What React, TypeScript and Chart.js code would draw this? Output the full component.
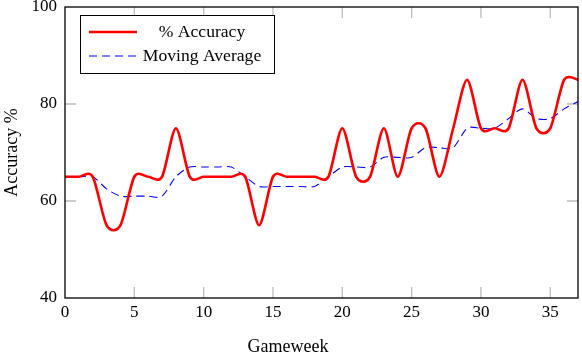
import React, { useEffect, useRef } from 'react';
import { Chart, registerables } from 'chart.js';

Chart.register(...registerables);

const gameweeks = [0, 1, 2, 3, 4, 5, 6, 7, 8, 9, 10, 11, 12, 13, 14, 15, 16, 17, 18, 19, 20, 21, 22, 23, 24, 25, 26, 27, 28, 29, 30, 31, 32, 33, 34, 35, 36, 37];
const accuracy = [65, 65, 65, 55, 55, 65, 65, 65, 75, 65, 65, 65, 65, 65, 55, 65, 65, 65, 65, 65, 75, 65, 65, 75, 65, 75, 75, 65, 75, 85, 75, 75, 75, 85, 75, 75, 85, 85];
const movingAverage = [65, 65, 65, 62.5, 61, 61, 61, 61, 65, 67, 67, 67, 67, 65, 63, 63, 63, 63, 63, 65, 67, 67, 67, 69, 69, 69, 71, 71, 71, 75, 75, 75, 77, 79, 77, 77, 79, 80.5];
const xTicks = [0, 5, 10, 15, 20, 25, 30, 35];
const yTicks = [40, 60, 80, 100];
const seriesNames = ['% Accuracy', 'Moving Average'];
const xTitle = 'Gameweek';
const yTitle = 'Accuracy %';

const FONT = "'Liberation Serif', 'DejaVu Serif', serif";
const SMOOTH = 0.1375;

const framePlugin = {
  id: 'frameAndTicks',
  beforeDatasetsDraw(chart: any) {
    const { ctx, chartArea } = chart;
    // uniform (pgfplots-like) smooth control points
    chart.getSortedVisibleDatasetMetas().forEach((meta: any) => {
      const line = meta.dataset;
      const pts = meta.data;
      if (line && line.updateControlPoints) line.updateControlPoints(chartArea, 'x');
      const n = pts.length;
      for (let i = 0; i < n; i++) {
        const p = pts[i];
        const prev = pts[Math.max(i - 1, 0)];
        const next = pts[Math.min(i + 1, n - 1)];
        const dx = next.x - prev.x;
        const dy = next.y - prev.y;
        p.cp1x = p.x - SMOOTH * dx;
        p.cp1y = p.y - SMOOTH * dy;
        p.cp2x = p.x + SMOOTH * dx;
        p.cp2y = p.y + SMOOTH * dy;
      }
      if (line) line._path = undefined;
    });

    const xs = chart.scales.x;
    const ys = chart.scales.y;
    const len = 11;
    ctx.save();
    ctx.strokeStyle = '#bdbdbd';
    ctx.lineWidth = 1.3;
    ctx.beginPath();
    xTicks.forEach((v) => {
      if (v === xs.min || v === xs.max) return;
      const px = xs.getPixelForValue(v);
      ctx.moveTo(px, chartArea.bottom);
      ctx.lineTo(px, chartArea.bottom - len);
      ctx.moveTo(px, chartArea.top);
      ctx.lineTo(px, chartArea.top + len);
    });
    yTicks.forEach((v) => {
      if (v === ys.min || v === ys.max) return;
      const py = ys.getPixelForValue(v);
      ctx.moveTo(chartArea.left, py);
      ctx.lineTo(chartArea.left + len, py);
      ctx.moveTo(chartArea.right, py);
      ctx.lineTo(chartArea.right - len, py);
    });
    ctx.stroke();
    ctx.restore();
  },
  afterDraw(chart: any) {
    const { ctx, chartArea } = chart;
    ctx.save();
    ctx.strokeStyle = '#000';
    ctx.lineWidth = 1.3;
    ctx.strokeRect(chartArea.left, chartArea.top, chartArea.right - chartArea.left, chartArea.bottom - chartArea.top);

    // axis titles
    ctx.fillStyle = '#000';
    ctx.font = `18px ${FONT}`;
    ctx.textAlign = 'center';
    ctx.textBaseline = 'middle';
    ctx.fillText(xTitle, 288, 347);
    ctx.save();
    ctx.translate(12, (chartArea.top + chartArea.bottom) / 2);
    ctx.rotate(-Math.PI / 2);
    ctx.fillText(yTitle, 0, 0);
    ctx.restore();

    // legend
    const bx = chartArea.left + 15;
    const by = chartArea.top + 8;
    const bw = 194;
    const bh = 58;
    ctx.fillStyle = '#fff';
    ctx.fillRect(bx, by, bw, bh);
    ctx.lineWidth = 1;
    ctx.strokeStyle = '#000';
    ctx.strokeRect(bx + 0.5, by + 0.5, bw, bh);
    const ds = chart.data.datasets;
    const rows = [by + 17, by + 41];
    rows.forEach((ry, i) => {
      ctx.beginPath();
      ctx.strokeStyle = ds[i].borderColor;
      ctx.lineWidth = ds[i].borderWidth;
      ctx.setLineDash(ds[i].borderDash || []);
      ctx.moveTo(bx + 9, ry);
      ctx.lineTo(bx + 57, ry);
      ctx.stroke();
      ctx.setLineDash([]);
      ctx.fillStyle = '#000';
      ctx.font = `17.6px ${FONT}`;
      ctx.textAlign = 'center';
      ctx.textBaseline = 'middle';
      ctx.fillText(seriesNames[i], bx + 122, ry);
    });
    ctx.restore();
  },
};

export default function App() {
  const ref = useRef<HTMLCanvasElement>(null);
  useEffect(() => {
    document.body.style.margin = '0';
    const canvas = ref.current;
    if (!canvas) return;
    const chart = new Chart(canvas, {
      type: 'line',
      data: {
        datasets: [
          {
            label: seriesNames[0],
            data: gameweeks.map((g, i) => ({ x: g, y: accuracy[i] })),
            borderColor: 'rgb(255,0,0)',
            borderWidth: 2.6,
            pointRadius: 0,
            tension: 0.4,
            fill: false,
          },
          {
            label: seriesNames[1],
            data: gameweeks.map((g, i) => ({ x: g, y: movingAverage[i] })),
            borderColor: 'rgb(0,0,255)',
            borderWidth: 1.1,
            borderDash: [8, 5],
            pointRadius: 0,
            tension: 0.4,
            fill: false,
          },
        ],
      },
      options: {
        animation: false,
        responsive: false,
        layout: { padding: { top: 7, right: 4, left: 0, bottom: 0 } },
        plugins: {
          legend: { display: false },
          tooltip: { enabled: false },
        },
        scales: {
          x: {
            type: 'linear',
            min: 0,
            max: 37,
            grid: { display: false, drawTicks: false },
            border: { display: false },
            afterBuildTicks: (s: any) => {
              s.ticks = xTicks.map((v) => ({ value: v }));
            },
            afterFit: (s: any) => {
              s.height = 56;
              s.paddingLeft = 0;
              s.paddingRight = 0;
            },
            ticks: {
              color: '#000',
              padding: 4,
              font: { family: FONT, size: 17 },
              maxRotation: 0,
              autoSkip: false,
            },
          },
          y: {
            type: 'linear',
            min: 40,
            max: 100,
            grid: { display: false, drawTicks: false },
            border: { display: false },
            afterBuildTicks: (s: any) => {
              s.ticks = yTicks.map((v) => ({ value: v }));
            },
            afterFit: (s: any) => {
              s.width = 65;
              s.paddingTop = 0;
              s.paddingBottom = 0;
            },
            ticks: {
              color: '#000',
              padding: 8,
              font: { family: FONT, size: 17 },
              autoSkip: false,
            },
          },
        },
      },
      plugins: [framePlugin],
    });
    return () => chart.destroy();
  }, []);
  return (
    <div style={{ width: 582, height: 354 }}>
      <canvas ref={ref} width={582} height={354} style={{ display: 'block' }} />
    </div>
  );
}
